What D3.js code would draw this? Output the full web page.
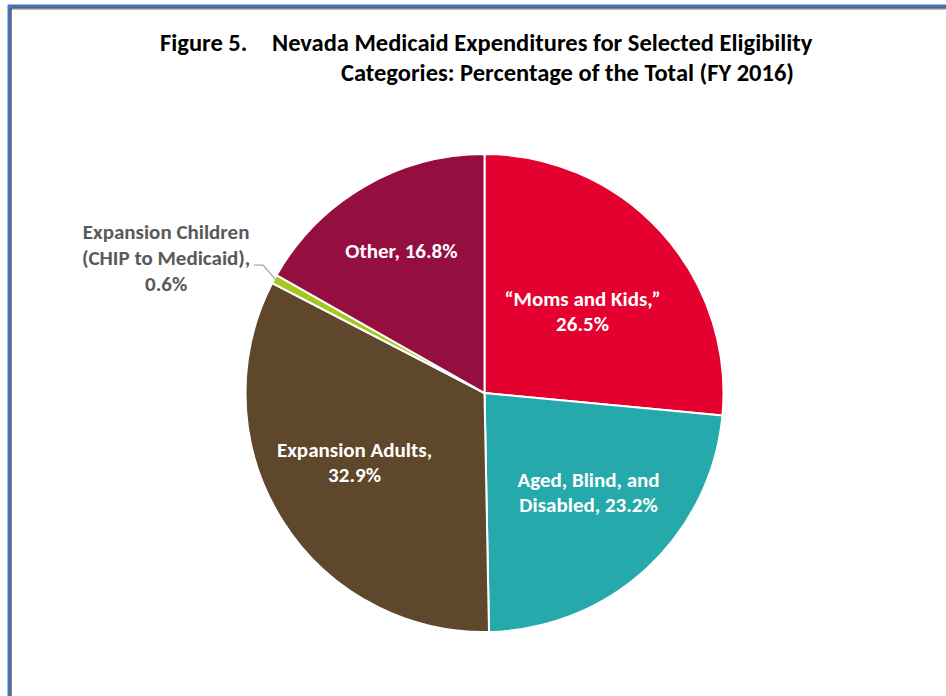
<!DOCTYPE html>
<html>
<head>
<meta charset="utf-8">
<script src="https://cdn.jsdelivr.net/npm/d3@7"></script>
<style>
  html, body { margin: 0; padding: 0; background: #fff; }
  svg { display: block; }
  text { font-family: Carlito, Lato, "Open Sans", sans-serif; font-weight: bold; }
</style>
</head>
<body>
<svg id="chart" width="946" height="696"></svg>
<script>
// ---- Data ----
const categories = ["\u201cMoms and Kids,\u201d", "Aged, Blind, and Disabled", "Expansion Adults", "Expansion Children (CHIP to Medicaid)", "Other"];
const values = [26.5, 23.2, 32.9, 0.6, 16.8];
const labelLines = [
  ["\u201cMoms and Kids,\u201d", "26.5%"],
  ["Aged, Blind, and", "Disabled, 23.2%"],
  ["Expansion Adults,", "32.9%"],
  ["Expansion Children", "(CHIP to Medicaid),", "0.6%"],
  ["Other, 16.8%"]
];
const colors = ["#E4002F", "#26A9AA", "#5E472A", "#A6C71D", "#950E40"];
const titleLines = ["Nevada Medicaid Expenditures for Selected Eligibility", "Categories: Percentage of the Total (FY 2016)"];

// ---- Layout ----
const svg = d3.select("#chart");
const W = 946, H = 696;
const cx = 484.5, cy = 393, R = 239;

// frame
svg.append("line").attr("x1", 8).attr("x2", W).attr("y1", 6).attr("y2", 6).attr("stroke", "#4472C4").attr("stroke-width", 3);
svg.append("line").attr("x1", 9).attr("x2", 9).attr("y1", 5).attr("y2", H).attr("stroke", "#4472C4").attr("stroke-width", 3);
svg.append("line").attr("x1", 11).attr("x2", W).attr("y1", 8).attr("y2", 8).attr("stroke", "#111").attr("stroke-width", 1);
svg.append("line").attr("x1", 11).attr("x2", 11).attr("y1", 8).attr("y2", H).attr("stroke", "#111").attr("stroke-width", 1);
svg.append("line").attr("x1", 12).attr("x2", W).attr("y1", 9.5).attr("y2", 9.5).attr("stroke", "#bbb").attr("stroke-width", 1);

// title
const tfs = 24.5;
svg.append("text").attr("x", 160).attr("y", 51).attr("font-size", tfs).attr("fill", "#000").text("Figure 5.");
svg.append("text").attr("x", 272).attr("y", 51).attr("font-size", tfs).attr("fill", "#000").text(titleLines[0]);
svg.append("text").attr("x", 341).attr("y", 81).attr("font-size", tfs).attr("fill", "#000").text(titleLines[1]);

const data = categories.map((c, i) => ({ name: c, value: values[i], lines: labelLines[i], color: colors[i] }));
const pie = d3.pie().value(d => d.value).sort(null);
const arcs = pie(data);
const arc = d3.arc().innerRadius(0).outerRadius(R);

const g = svg.append("g").attr("transform", `translate(${cx},${cy})`);
g.selectAll("path.slice").data(arcs).enter().append("path")
  .attr("class", "slice")
  .attr("d", arc)
  .attr("fill", d => d.data.color)
  .attr("stroke", "#fff")
  .attr("stroke-width", 2)
  .attr("stroke-linejoin", "round");

// label placement radii (layout only)
const labelRadius = [128, 144, 147, 0, 165];
const labelAngleShift = [0.04, -0.06, 0.07, 0, 0];
const fs = 21, lh = 25;

arcs.forEach((a, i) => {
  if (i === 3) return;
  const mid = (a.startAngle + a.endAngle) / 2 + labelAngleShift[i];
  const r = labelRadius[i];
  const x = Math.sin(mid) * r;
  const y = -Math.cos(mid) * r;
  const lines = a.data.lines;
  const t = g.append("text").attr("text-anchor", "middle").attr("font-size", fs).attr("fill", "#fff");
  lines.forEach((ln, k) => {
    t.append("tspan").attr("x", x).attr("y", y + (k - (lines.length - 1) / 2) * lh + fs * 0.35).text(ln);
  });
});

// outside label for tiny slice with leader line
(function () {
  const a = arcs[3];
  const mid = (a.startAngle + a.endAngle) / 2;
  const ex = Math.sin(mid) * (R - 2), ey = -Math.cos(mid) * (R - 2);
  const bx = ex - 13, by = ey - 15;
  const lx = bx - 9;
  g.append("polyline")
    .attr("points", `${ex},${ey} ${bx},${by} ${lx},${by}`)
    .attr("fill", "none").attr("stroke", "#A6A6A6").attr("stroke-width", 1.3);
  const tx = lx - 88, ty = by - 33;
  const t = g.append("text").attr("text-anchor", "middle").attr("font-size", fs).attr("fill", "#595959");
  a.data.lines.forEach((ln, k) => {
    t.append("tspan").attr("x", tx).attr("y", ty + k * 26 + fs * 0.35).text(ln);
  });
})();
</script>
</body>
</html>
